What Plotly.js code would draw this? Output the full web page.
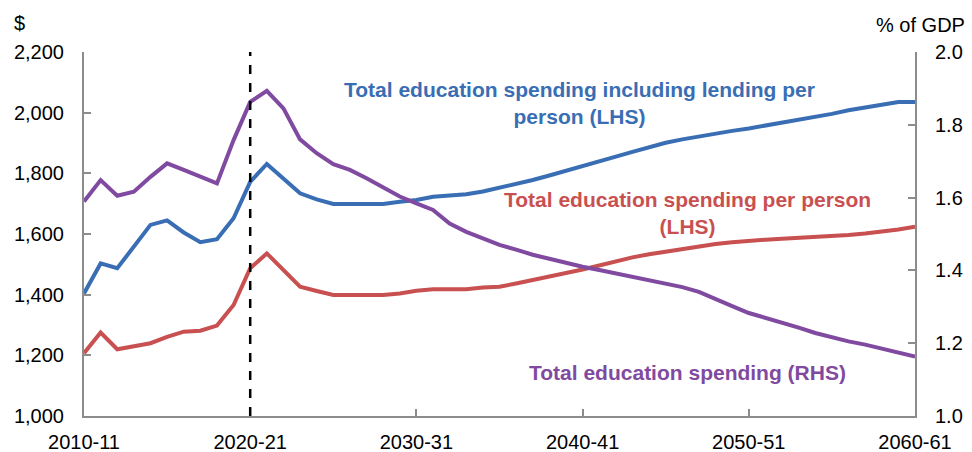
<!DOCTYPE html>
<html>
<head>
<meta charset="utf-8">
<script src="https://cdn.plot.ly/plotly-3.0.1.min.js"></script>
<style>html,body{margin:0;padding:0;background:#fff;}#chart{width:972px;height:452px;}</style>
</head>
<body>
<div id="chart"></div>
<script>
const years = ["2010-11","2011-12","2012-13","2013-14","2014-15","2015-16","2016-17","2017-18","2018-19","2019-20",
  "2020-21","2021-22","2022-23","2023-24","2024-25","2025-26","2026-27","2027-28","2028-29","2029-30",
  "2030-31","2031-32","2032-33","2033-34","2034-35","2035-36","2036-37","2037-38","2038-39","2039-40",
  "2040-41","2041-42","2042-43","2043-44","2044-45","2045-46","2046-47","2047-48","2048-49","2049-50",
  "2050-51","2051-52","2052-53","2053-54","2054-55","2055-56","2056-57","2057-58","2058-59","2059-60","2060-61"];

// Total education spending including lending per person ($, LHS)
const inclLending = [1404,1503,1487,1558,1630,1645,1605,1573,1583,1652,
  1772,1831,1784,1734,1714,1699,1699,1699,1699,1706,
  1712,1723,1727,1731,1740,1752,1765,1778,1793,1808,
  1822,1838,1855,1871,1886,1901,1912,1922,1932,1940,
  1948,1957,1966,1975,1984,1996,2008,2017,2027,2035,2035];

// Total education spending per person ($, LHS)
const perPerson = [1207,1275,1220,1229,1240,1261,1278,1281,1298,1366,
  1487,1536,1481,1426,1412,1399,1399,1399,1399,1404,
  1413,1418,1418,1418,1424,1426,1437,1448,1458,1470,
  1483,1496,1510,1523,1533,1542,1551,1560,1567,1573,
  1578,1581,1584,1587,1589,1592,1597,1602,1608,1615,1624];

// Total education spending (% of GDP, RHS)
const pctGDP = [1.589,1.648,1.605,1.616,1.657,1.694,1.676,1.657,1.639,1.758,
  1.863,1.893,1.845,1.760,1.722,1.692,1.676,1.653,1.627,1.603,
  1.584,1.566,1.529,1.506,1.488,1.470,1.457,1.443,1.432,1.420,
  1.410,1.401,1.392,1.383,1.374,1.364,1.354,1.341,1.320,1.302,
  1.283,1.270,1.257,1.243,1.228,1.216,1.205,1.196,1.185,1.174,1.163];

const xTickVals = ["2010-11","2020-21","2030-31","2040-41","2050-51","2060-61"];
const yLeftTicks = [1000,1200,1400,1600,1800,2000,2200];
const yLeftText = ["1,000","1,200","1,400","1,600","1,800","2,000","2,200"];
const yRightTicks = [1.0,1.2,1.4,1.6,1.8,2.0];
const yRightText = ["1.0","1.2","1.4","1.6","1.8","2.0"];
const markerYear = "2020-21";

const BLUE = "rgb(57,110,180)";
const RED = "rgb(201,80,80)";
const PURPLE = "rgb(127,74,160)";
const FONT = "Liberation Sans, Arial, sans-serif";

const traces = [
  {x: years, y: inclLending, type: "scatter", mode: "lines", line: {color: BLUE, width: 4}, yaxis: "y", hoverinfo: "skip"},
  {x: years, y: perPerson, type: "scatter", mode: "lines", line: {color: RED, width: 4}, yaxis: "y", hoverinfo: "skip"},
  {x: years, y: pctGDP, type: "scatter", mode: "lines", line: {color: PURPLE, width: 4}, yaxis: "y2", hoverinfo: "skip"}
];

const axisCommon = {
  showgrid: false, zeroline: false, showline: true, linecolor: "#8c8c8c", linewidth: 2,
  ticks: "inside", ticklen: 7, tickwidth: 2, tickcolor: "#8c8c8c",
  tickfont: {family: FONT, size: 20, color: "#000"}
};

const layout = {
  width: 972, height: 452,
  margin: {l: 84, r: 57, t: 52, b: 36},
  paper_bgcolor: "#fff", plot_bgcolor: "#fff",
  showlegend: false,
  font: {family: FONT, size: 20, color: "#000"},
  xaxis: Object.assign({}, axisCommon, {
    type: "category", categoryorder: "array", categoryarray: years,
    range: [0, years.length - 1],
    tickmode: "array", tickvals: xTickVals, ticktext: xTickVals,
    ticklabelstandoff: 7
  }),
  yaxis: Object.assign({}, axisCommon, {
    range: [1000, 2200], tickmode: "array", tickvals: yLeftTicks, ticktext: yLeftText,
    ticklabelstandoff: 14
  }),
  yaxis2: Object.assign({}, axisCommon, {
    overlaying: "y", side: "right",
    range: [1.0, 2.0], tickmode: "array", tickvals: yRightTicks, ticktext: yRightText,
    ticklabelstandoff: 14
  }),
  shapes: [
    {type: "line", xref: "x", yref: "paper", x0: markerYear, x1: markerYear, y0: 0, y1: 1,
     line: {color: "#000", width: 2.5, dash: "dash"}}
  ],
  annotations: [
    {xref: "paper", yref: "paper", x: -0.087, y: 1.0, xanchor: "left", yanchor: "bottom", yshift: 16,
     text: "$", showarrow: false, font: {family: FONT, size: 20, color: "#000"}},
    {xref: "paper", yref: "paper", x: 1.063, y: 1.0, xanchor: "right", yanchor: "bottom", yshift: 14,
     text: "% of GDP", showarrow: false, font: {family: FONT, size: 20, color: "#000"}},
    {xref: "x", yref: "y", x: 29.8, y: 2032, xanchor: "center", yanchor: "middle", align: "center",
     text: "<b>Total education spending including lending per<br>person (LHS)</b>", showarrow: false,
     font: {family: FONT, size: 21, color: BLUE}},
    {xref: "x", yref: "y", x: 36.3, y: 1669, xanchor: "center", yanchor: "middle", align: "center",
     text: "<b>Total education spending per person<br>(LHS)</b>", showarrow: false,
     font: {family: FONT, size: 21, color: RED}},
    {xref: "x", yref: "y", x: 36.3, y: 1145, xanchor: "center", yanchor: "middle", align: "center",
     text: "<b>Total education spending (RHS)</b>", showarrow: false,
     font: {family: FONT, size: 21, color: PURPLE}}
  ]
};

Plotly.newPlot("chart", traces, layout, {staticPlot: true, displayModeBar: false});
</script>
</body>
</html>
